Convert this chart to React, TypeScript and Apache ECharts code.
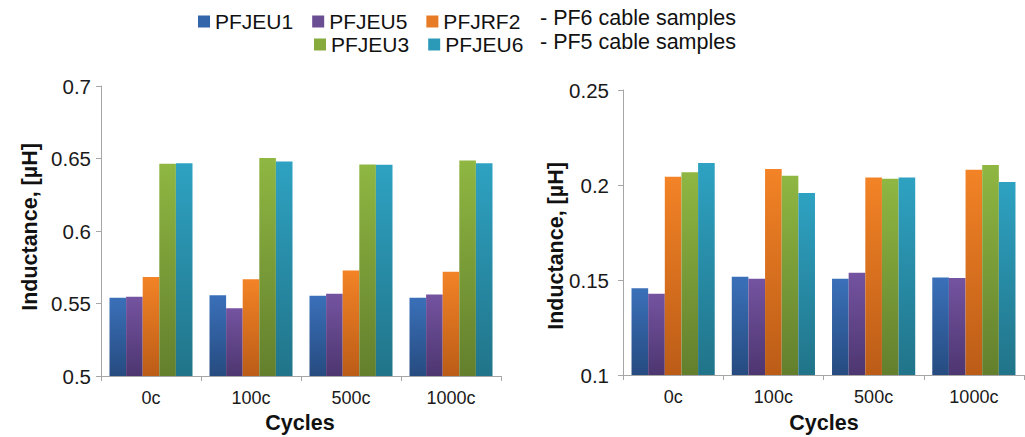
import React, { useEffect, useRef } from "react";
import * as echarts from "echarts";

const categories = ["0c", "100c", "500c", "1000c"];
const seriesNames = ["PFJEU1", "PFJEU5", "PFJRF2", "PFJEU3", "PFJEU6"];

// Left chart (inductance µH)
const leftPFJEU1 = [0.554, 0.5557, 0.5553, 0.5539];
const leftPFJEU5 = [0.5546, 0.5468, 0.5567, 0.5562];
const leftPFJRF2 = [0.5682, 0.5668, 0.5728, 0.5719];
const leftPFJEU3 = [0.6463, 0.6503, 0.6459, 0.6487];
const leftPFJEU6 = [0.6468, 0.648, 0.6457, 0.6468];

// Right chart
const rightPFJEU1 = [0.1457, 0.1517, 0.1506, 0.1513];
const rightPFJEU5 = [0.1427, 0.1506, 0.1538, 0.151];
const rightPFJRF2 = [0.2044, 0.2084, 0.2039, 0.208];
const rightPFJEU3 = [0.2067, 0.2049, 0.2033, 0.2105];
const rightPFJEU6 = [0.2116, 0.1958, 0.2039, 0.2016];

const leftAxis = { min: 0.5, max: 0.7, interval: 0.05 };
const rightAxis = { min: 0.1, max: 0.25, interval: 0.05 };

const legendRow1 = ["PFJEU1", "PFJEU5", "PFJRF2"];
const legendRow2 = ["PFJEU3", "PFJEU6"];
const noteTexts = ["- PF6 cable samples", "- PF5 cable samples"];

const topColors = ["#3a70b9", "#7453a0", "#f38326", "#8fb742", "#2ea2c2"];
const bottomColors = ["#264b80", "#4d3670", "#bb5c17", "#637f2d", "#217489"];
const legendColors = ["#3366aa", "#6a4e94", "#e87b25", "#86aa3c", "#2b9ab8"];

const FONT = "'Liberation Sans', Arial, sans-serif";

export default function App() {
  const ref = useRef<HTMLDivElement>(null);
  useEffect(() => {
    if (!ref.current) return;
    const chart = echarts.init(ref.current, undefined, { renderer: "svg" });
    const leftData = [leftPFJEU1, leftPFJEU5, leftPFJRF2, leftPFJEU3, leftPFJEU6];
    const rightData = [rightPFJEU1, rightPFJEU5, rightPFJRF2, rightPFJEU3, rightPFJEU6];

    const mkSeries = (data: number[][], idx: number) =>
      seriesNames.map((name, i) => ({
        name,
        type: "bar",
        xAxisIndex: idx,
        yAxisIndex: idx,
        data: data[i],
        barGap: "0%",
        barCategoryGap: "17%",
        itemStyle: {
          color: new echarts.graphic.LinearGradient(0, 0, 0, 1, [
            { offset: 0, color: topColors[i] },
            { offset: 1, color: bottomColors[i] },
          ]),
        },
      }));

    const xAxisBase = (gridIndex: number) => ({
      type: "category",
      gridIndex,
      data: categories,
      axisLine: { lineStyle: { color: "#a6a6a6", width: 1 } },
      axisTick: { show: true, length: 5, lineStyle: { color: "#a6a6a6" } },
      axisLabel: { color: "#1a1a1a", fontSize: 18, fontFamily: FONT, margin: 13 },
    });
    const yAxisBase = (gridIndex: number, ax: { min: number; max: number; interval: number }, margin: number) => ({
      type: "value",
      gridIndex,
      min: ax.min,
      max: ax.max,
      interval: ax.interval,
      axisLine: { show: true, lineStyle: { color: "#a6a6a6", width: 1 } },
      axisTick: { show: true, length: 5, lineStyle: { color: "#a6a6a6" } },
      splitLine: { show: false },
      axisLabel: { color: "#1a1a1a", fontSize: 20.5, fontFamily: FONT, margin },
    });

    const legendItem = (name: string) => ({
      name,
      itemStyle: { color: legendColors[seriesNames.indexOf(name)] },
    });

    const titleText = (text: string, x: number, y: number, rotate: boolean) => ({
      type: "text",
      x,
      y,
      rotation: rotate ? Math.PI / 2 : 0,
      style: {
        text,
        font: `bold 21.5px ${FONT}`,
        fill: "#111",
        textAlign: "center",
        textVerticalAlign: "middle",
        verticalAlign: "middle",
      },
    });

    const legendBase = {
      itemWidth: 12,
      itemHeight: 12,
      itemGap: 19,
      icon: "rect",
      textStyle: { fontSize: 21, fontFamily: FONT, color: "#111" },
      selectedMode: false,
    };

    chart.setOption({
      animation: false,
      backgroundColor: "#ffffff",
      grid: [
        { left: 101, top: 86, width: 400, height: 290 },
        { left: 623, top: 90, width: 401, height: 285 },
      ],
      xAxis: [xAxisBase(0), xAxisBase(1)],
      yAxis: [yAxisBase(0, leftAxis, 10), yAxisBase(1, rightAxis, 14)],
      legend: [
        { ...legendBase, data: legendRow1.map(legendItem), left: 193, top: 6 },
        { ...legendBase, data: legendRow2.map(legendItem), left: 309, top: 29 },
      ],
      graphic: [
        {
          type: "text",
          left: 540,
          top: 7,
          style: { text: noteTexts[0], font: `21.5px ${FONT}`, fill: "#111" },
        },
        {
          type: "text",
          left: 540,
          top: 31,
          style: { text: noteTexts[1], font: `21.5px ${FONT}`, fill: "#111" },
        },
        titleText("Inductance, [µH]", 30, 227, true),
        titleText("Inductance, [µH]", 556, 246, true),
        titleText("Cycles", 300, 423, false),
        titleText("Cycles", 824, 423, false),
      ],
      series: [...mkSeries(leftData, 0), ...mkSeries(rightData, 1)],
    });
    return () => chart.dispose();
  }, []);
  return (
    <div
      ref={ref}
      style={{ position: "fixed", left: 0, top: 0, width: 1025, height: 437, background: "#fff" }}
    />
  );
}
